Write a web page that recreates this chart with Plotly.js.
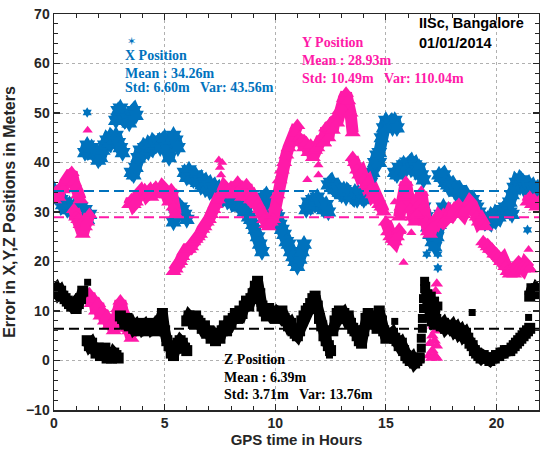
<!DOCTYPE html>
<html><head><meta charset="utf-8">
<script src="https://cdn.plot.ly/plotly-3.0.1.min.js"></script>
<style>html,body{margin:0;padding:0;background:#fff}</style>
</head><body><div id="chart" style="width:540px;height:453px"></div>
<script>
// sampling step of the listed series (hours)
const STEP = 0.1;

// X position error (m): segment start hours, values every 0.1 h
const xStarts = [0, 1.4, 2.8, 3.5, 5.4, 5.9, 9.4, 11.4, 12.4, 14.1, 14.7, 15.4, 16.7, 17.4, 19.2, 20.6];
const xValues = [
  [34.5,33,34,32.5,31.5,32,30.5,31.5,30.5,31,31.5,30.5,31,29.5,30.5,28.5,29.5],
  [42,43.5,42.5,43,41.5,42,40.5,41,42.5,43.5,44.5,44,45,44.5,45.5,44,43,42],
  [48.5,50.5,51,49,48.5,49,48,50,50.5,49.5],
  [38,37.5,39,41,42.5,42,43,42.5,43.5,43,44,43.5,44,43,44.5,45,43,41,44.5,45.5,44.5,43],
  [28,29.5,30,31,30.5,29.5,28.5],
  [38,37,38.5,37,36.5,37.5,36,36.5,35.5,36,35,35.5,34.5,35,34,34.5,33.5,34,33,33.5,32.5,33,32,32.5,31.5,31,31.5,30,30.5,29,28.5,27.5,26.5,25,23.5,22],
  [31,33,33.5,32,31.5,30,29.5,29,27.5,26.5,25.5,24,23.5,22,21,20,19,20.5,22,23.5],
  [30.5,32,31,32.5,31.5,33,32,31,30.5,31.5,30],
  [35.5,36,35,34.5,35,34,33.5,34.5,33,34,33.5,33,34,32.5,33.5,33,32.5],
  [33,34.5,36,38,40,41.5,40],
  [42,45,47,48.5,47.5,48,47,48.5,47],
  [38,37.5,39,38.5,39.5,38.5,39.5,40,39,39.5,38.5,39,37.5,36.5],
  [31,29,27,25.5,24,23,25,27.5,29.5,31],
  [37.5,37,37.5,36,35.5,35,35.5,34.5,34,34.5,33.5,33,33.5,32.5,32,32.5,31.5,31],
  [30,29,28.5,28,28.5,28,29,28.5,29.5,29,30,30.5,31,30.5,30,29.5],
  [32,33.5,35,36,35.5,36.5,36,35,35.5,34.5,35,34,34.5,33.5]
];
const xOutHours = [1.5, 15.8, 16.85, 17.35, 17.35, 21.4];
const xOutValues = [50.1, 40.5, 21.5, 21.5, 18.7, 26.4];

// Y position error (m)
const yStarts = [0, 0.9, 1.6, 3.4, 5.4, 7.6, 9.9, 11.1, 12.2, 13.5, 15.0, 15.6, 17.0, 19.4, 21.4];
const yValues = [
  [32.5,34,33,35,34.5,36,36.5,37.5,38,36,35,33.5,32.5],
  [30.5,29,28.5,27.5,25.5,27,28,29.5],
  [13.5,11.5,12.5,10,11.5,9,10,8,9,7,7.5,6,8.5,10.5,12,10,9,6.5,6,4.5],
  [31.5,32.5,31.5,32,33.5,34,33,34.5,33.5,34,33,34.5,35,33.5,34,35,34.5,33.5,32,34.5,31,29.5],
  [18,18.5,19.5,20,21,22,22.5,22.5,23,24,24.5,25,25.5,26.5,27,28,28.5,29.5,30.5,31.5,32.5,33.5],
  [34,35,34.5,33.5,35,34,33.5,36,34.5,33,34,35.5,33,32.5,33,32,31.5,30.5,29.5,28.5,27.5,27,28],
  [28.5,31,33.5,36.5,38.5,40,41.5,43,44,45,46,47.5],
  [45,44.5,43,44,42,43.5,41,42.5,43,44.5,45,44],
  [44,47,45,48,46.5,49,48,50.5,51,53,54,52.5,50,46],
  [41,40,38.5,37.5,38,36.5,35.5,36,34.5,33.5,34,32.5,31.5,31,30],
  [28,26,25,24.5,24,25,26.5],
  [29,31,33,36,33.5,30.5,29,28,29.5,31.5,34,31,28,26],
  [25.5,27,28.5,28,29,28.5,29.5,28.5,29,30,29.5,30.5,31,31.5,30,29.5,30.5,31,32,31.5,30,29,28,28.5,27.5,27],
  [24,23.5,23,22.5,22.5,21.5,21.5,21,20,20.5,19,18,17.5,18.5,17.5,19,19.5,19,18.5,19.5,19,18.5],
  [32,33,31.5,32.5,31,32]
];
// isolated Y points and the dense Y cluster near 17 h
const yOutHours = [1.52, 7.45, 7.5, 7.55, 7.6, 11.45, 11.95, 11.95, 13.45, 15.4, 15.7, 15.8, 16.15, 21.45];
const yOutValues = [46.5, 40.5, 39, 37.5, 40, 36.5, 39.5, 37.5, 41, 32, 26, 19.8, 25.8, 22.4];
const yDipHours = [16.95, 17.0, 17.05, 17.1, 17.1, 17.15, 17.2, 17.2, 17.25, 17.3, 17.3, 17.2, 17.25, 17.3, 17.25];
const yDipValues = [1, 3.5, 0.5, 5, 2, 7, 4, 1, 6, 3, 0.5, 12, 14, 15.5, 11];

// Z position error (m)
const zStarts = [0, 1.5, 3.0, 5.2, 6.0, 9.5, 12.6, 15.2, 17.0, 21.5];
const zValues = [
  [14,14.5,13.5,14,13,12.5,12,11.5,11,11.5,10.5,11.5,12.5,14],
  [4,3,3.5,2.5,1.5,2.5,1,2,2.5,0.5,1.5,0.5,1.5,1,0.5],
  [9,8.5,7.5,8.5,7,7.5,6.5,7,6,7.5,6.5,7,6,7.5,6.5,7,6,7,8,9.5,6,4],
  [3,1.5,1,2.5,3.5,4,3.5,2.5,2],
  [8,9,8.5,7.5,9,8,7.5,6.5,7,5.5,6,4.5,5,4,5.5,4.5,6,7,6,8,7.5,8.5,9.5,8.5,10,9.5,11,12,11,12.5,13.5,15,16,13.5,11],
  [10,9,10.5,9.5,10,8.5,9.5,9,10,8.5,8,7,7.5,6,5.5,5,6,8,9,10,10.5,11.5,12.5,13,11,8.5,7,5,4,3,2],
  [6,8,9.5,10,9,9.5,8.5,9,7.5,6.5,6,5,4,3.5,6,8.5,9.5,8.5,9,7.5,6.5,10,8,6,4.5,5.5],
  [5,5.5,4.5,4,3,3.5,2,1,0.5,0,0.5,-0.5,0,0.5],
  [9,8,8.5,7.5,7.5,7,7.5,6.5,7,6.5,7,6,6.5,5.5,6,5,5.5,4.5,3.5,3,2,1.5,1,0.5,1,0.5,0.5,0,0.5,0.5,1,1,1.5,1.5,2,2,2,2.5,3,3.5,4,4.5,5,5.5,6,6.5],
  [13,14.5,13.5,14.5,14]
];
// dense vertical Z strip near 16.5-17.4 h
const zStripHours = [16.55,16.6,16.6,16.65,16.65,16.7,16.7,16.75,16.75,16.8,16.8,16.85,16.9,16.95,17.0,17.05,17.1,17.15,17.2,17.25,17.3,17.35];
const zStripValues = [0.5,2.5,4.5,6.5,8.5,10.5,12.5,14.5,16,15,13,11,13.5,12,10,13,11.5,9.5,12,10.5,8.5,11];
// isolated Z points
const zOutHours = [1.52, 15.4, 18.9, 21.45, 12.45];
const zOutValues = [15.8, 7.9, 9.7, 8.7, 1.1];

// statistics
const meanX = 34.26, meanY = 28.93, meanZ = 6.39;
const xLabels = ['X Position', 'Mean : 34.26m', 'Std: 6.60m\u00a0\u00a0\u00a0Var: 43.56m'];
const yLabels = ['Y Position', 'Mean : 28.93m', 'Std: 10.49m\u00a0\u00a0\u00a0Var: 110.04m'];
const zLabels = ['Z Position', 'Mean : 6.39m', 'Std: 3.71m\u00a0\u00a0\u00a0Var: 13.76m'];
const siteLabels = ['IISc, Bangalore', '01/01/2014'];

const BLUE = '#0072bd', PINK = '#ff1aa8', BLACK = '#000000';

// segments joined with gaps (null) so each cloud is drawn on its own
function expand(starts, values) {
  const t = [], v = [];
  starts.forEach((s, i) => {
    values[i].forEach((val, j) => { t.push(+(s + j * STEP).toFixed(3)); v.push(val); });
    t.push(null); v.push(null);
  });
  return {t, v};
}
const X = expand(xStarts, xValues);
const Y = expand(yStarts, yValues);
const Z = expand(zStarts, zValues);

const cloud = (d, sym, size, color, lw) => ({x: d.t, y: d.v, type: 'scatter', mode: 'lines+markers',
  connectgaps: false, hoverinfo: 'skip',
  line: {color: color, width: lw, shape: 'linear'},
  marker: {symbol: sym, size: size, color: color, line: {width: 0}}});
const pts = (t, v, sym, size, color) => ({x: t, y: v, type: 'scatter', mode: 'markers', hoverinfo: 'skip',
  marker: {symbol: sym, size: size, color: color, line: {width: 0}}});

const traces = [
  cloud(X, 'hexagram', 14, BLUE, 12),
  pts(xOutHours, xOutValues, 'hexagram', 8, BLUE),
  cloud(Y, 'triangle-up', 14, PINK, 12),
  pts(yDipHours, yDipValues, 'triangle-up', 11, PINK),
  pts(yOutHours, yOutValues, 'triangle-up', 9, PINK),
  cloud(Z, 'square', 11, BLACK, 11),
  pts(zStripHours, zStripValues, 'square', 9, BLACK),
  pts(zOutHours, zOutValues, 'square', 7, BLACK)
];

const serif = {family: 'Liberation Serif, Times New Roman, serif', size: 14, weight: 'bold'};
function block(lines, x0, ys, color) {
  return lines.map((txt, i) => ({text: txt, x: x0, y: ys[i], xref: 'x', yref: 'y', xanchor: 'left', yanchor: 'middle',
    showarrow: false, font: Object.assign({}, serif, {color: color})}));
}
const annotations = [].concat(
  block(xLabels, 3.1, [61.6, 58.0, 55.1], BLUE),
  block(yLabels, 11.1, [64.2, 60.6, 57.0], PINK),
  block(zLabels, 7.58, [0.2, -3.4, -6.9], BLACK),
  siteLabels.map((txt, i) => ({text: txt, x: 16.4, y: [68.2, 64.2][i], xref: 'x', yref: 'y', xanchor: 'left', yanchor: 'middle',
    showarrow: false, font: {family: 'Liberation Sans, Arial, sans-serif', size: 14.5, weight: 'bold', color: '#000'}})),
  [{text: '\u2736', x: 3.5, y: 64.4, xref: 'x', yref: 'y', showarrow: false,
    font: {family: 'DejaVu Sans', size: 11, color: BLUE}}]
);

const meanLine = (v, c) => ({type: 'line', xref: 'paper', x0: 0, x1: 1, yref: 'y', y0: v, y1: v,
  line: {color: c, width: 2, dash: '10px,5px'}});

const axisCommon = {
  showline: true, linecolor: '#262626', linewidth: 1.5, mirror: 'ticks',
  ticks: 'inside', ticklen: 6, tickwidth: 1.2, tickcolor: '#262626',
  showgrid: true, gridcolor: '#b0b0b0', griddash: 'dot', gridwidth: 1,
  zeroline: false, automargin: false,
  tickfont: {family: 'Liberation Sans, Arial, sans-serif', size: 14, weight: 'bold', color: '#262626'}
};

const layout = {
  width: 540, height: 453,
  margin: {l: 54, r: 1, t: 14, b: 43},
  paper_bgcolor: '#ffffff', plot_bgcolor: '#ffffff',
  showlegend: false,
  xaxis: Object.assign({}, axisCommon, {
    range: [0, 21.92], dtick: 5, tick0: 0,
    minor: {ticks: 'inside', ticklen: 4, dtick: 1, tickcolor: '#262626', tickwidth: 1, showgrid: false},
    title: {text: 'GPS time in Hours', standoff: 4,
      font: {family: 'Liberation Sans, Arial, sans-serif', size: 15, weight: 'bold', color: '#262626'}}
  }),
  yaxis: Object.assign({}, axisCommon, {
    range: [-10, 70], dtick: 10, tick0: 0,
    minor: {ticks: 'inside', ticklen: 4, dtick: 2, tickcolor: '#262626', tickwidth: 1, showgrid: false},
    title: {text: 'Error in X,Y,Z Positions in Meters', standoff: 6,
      font: {family: 'Liberation Sans, Arial, sans-serif', size: 16, weight: 'bold', color: '#262626'}}
  }),
  shapes: [meanLine(meanX, BLUE), meanLine(meanY, PINK), meanLine(meanZ, BLACK)],
  annotations: annotations
};

Plotly.newPlot('chart', traces, layout, {displayModeBar: false, staticPlot: true});
</script></body></html>
